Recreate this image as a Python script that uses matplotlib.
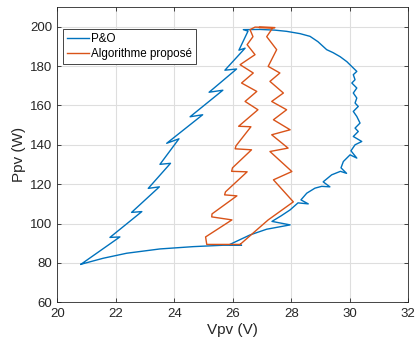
import matplotlib.pyplot as plt

# P&O trajectory (Vpv in V, Ppv in W)
po_v = [20.81, 21.57, 22.37, 23.51, 24.65, 25.67, 26.30, 25.90, 26.59, 27.16,
        27.96, 27.34, 27.65, 27.96, 28.23, 28.58, 28.33, 28.53, 28.81, 29.04,
        29.32, 29.09, 29.38, 29.68, 29.89, 29.70, 29.78, 30.01, 30.24, 30.04,
        30.18, 30.41, 30.12, 30.29, 30.18, 30.35, 30.24, 30.12, 30.29, 30.18,
        30.24, 30.12, 30.24, 30.07, 30.18, 30.12, 30.24,
        30.12, 29.90, 29.67, 29.43, 29.21, 28.91, 28.64, 28.30, 27.84, 27.44,
        26.93, 26.36,
        26.52, 26.21, 26.42, 25.73, 26.13, 25.19, 25.66, 24.54, 24.97, 23.74,
        24.16, 23.51, 23.87, 23.11, 23.49, 22.54, 22.89, 21.80, 22.14, 20.81]
po_p = [79.33, 82.38, 84.92, 87.11, 88.28, 88.99, 88.99, 89.40, 94.23, 97.13,
        99.32, 101.10, 103.90, 106.95, 110.51, 110.00, 112.03, 115.44, 117.99, 118.90,
        118.65, 121.19, 124.75, 126.53, 125.51, 128.31, 131.52, 134.92, 133.25, 136.96,
        140.01, 141.69, 144.23, 146.77, 148.50, 151.05, 154.40, 156.95, 159.49, 161.22,
        163.76, 166.31, 168.85, 171.39, 173.07, 175.62, 177.29,
        179.02, 182.23, 184.77, 186.81, 188.33, 192.40, 195.10, 196.47, 197.64, 198.25,
        198.61, 198.50,
        197.74, 188.08, 189.09, 177.90, 178.51, 166.71, 167.73, 154.25, 155.27, 140.77,
        143.06, 130.09, 130.60, 117.88, 118.65, 105.68, 106.08, 92.96, 93.21, 79.33]

# proposed algorithm trajectory
prop_v = [26.25, 25.11, 25.07, 25.97, 25.28, 25.29, 26.14, 25.72, 25.75, 26.49,
          25.96, 25.99, 26.64, 26.08, 26.11, 26.62, 26.20, 26.86, 26.42, 26.82,
          26.30, 26.70, 26.25, 26.76, 26.49, 26.69, 26.59, 26.76, 27.44, 26.90,
          27.37,
          27.16, 27.50, 27.21, 27.61, 27.27, 27.73, 27.33, 27.84, 27.39, 27.96,
          27.33, 27.89, 27.27, 28.02, 27.39, 28.07, 27.21, 26.25]
prop_p = [89.40, 89.40, 93.21, 101.86, 103.39, 104.91, 114.07, 114.58, 116.10, 126.28,
          126.53, 128.31, 137.47, 137.97, 139.50, 149.17, 149.42, 157.81, 162.03, 167.12,
          171.39, 176.48, 180.70, 185.79, 190.87, 194.94, 198.50, 199.78, 199.52, 199.60,
          199.50,
          194.94, 188.33, 179.84, 176.48, 172.21, 166.31, 162.03, 157.81, 152.73, 147.64,
          145.10, 138.33, 136.60, 126.43, 122.21, 111.02, 101.86, 89.40]

xticks = [20, 22, 24, 26, 28, 30, 32]
yticks = [60, 80, 100, 120, 140, 160, 180, 200]

plt.rcParams['font.family'] = ['Liberation Sans', 'DejaVu Sans']

fig = plt.figure(figsize=(4.17, 3.47), dpi=100)
ax = fig.add_axes([0.1374, 0.1288, 0.8417, 0.851])

ax.plot(po_v, po_p, color='#0072BD', lw=1.0, label='P&O')
ax.plot(prop_v, prop_p, color='#D95319', lw=1.0, label='Algorithme proposé')

ax.set_xlim(20, 32)
ax.set_ylim(60, 210)
ax.set_xticks(xticks)
ax.set_yticks(yticks)
ax.grid(True, color='#dedede', lw=0.8)
ax.set_axisbelow(True)
ax.tick_params(direction='in', length=3, width=0.6, colors='#262626',
               labelsize=9.5, top=True, right=True)
ax.tick_params(axis='x', pad=4)
ax.tick_params(axis='y', pad=3.5)
for s in ax.spines.values():
    s.set_color('#262626')
    s.set_linewidth(0.6)

ax.set_xlabel('Vpv (V)', fontsize=11, color='#262626', labelpad=2)
ax.set_ylabel('Ppv (W)', fontsize=11, color='#262626', labelpad=3)

leg = ax.legend(loc='upper left', bbox_to_anchor=(0.016, 0.926), fontsize=8.4,
                handlelength=1.9, handletextpad=0.15, borderpad=0.35,
                labelspacing=0.25, fancybox=False, framealpha=1, borderaxespad=0)
leg.get_frame().set_edgecolor('#262626')
leg.get_frame().set_linewidth(0.6)

fig.savefig('out.png', dpi=100)
